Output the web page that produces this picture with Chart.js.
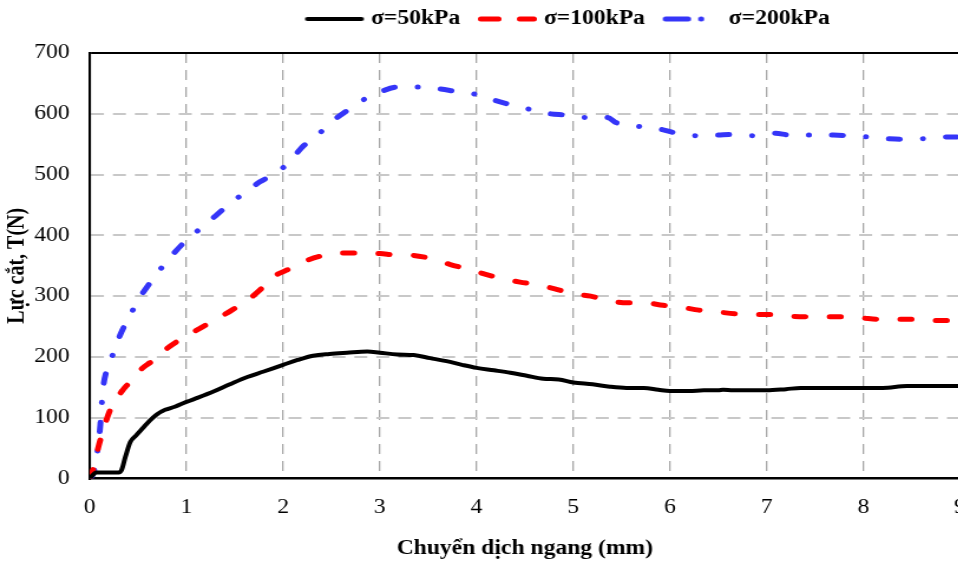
<!DOCTYPE html>
<html>
<head>
<meta charset="utf-8">
<style>
  html, body { margin: 0; padding: 0; background: #fff; overflow: hidden; }
  #wrap { width: 830px; height: 561px; transform: scaleX(1.18); transform-origin: 0 0; }
  canvas { display: block; }
</style>
<script src="https://cdn.jsdelivr.net/npm/chart.js@4.4.1/dist/chart.umd.min.js"></script>
</head>
<body>
<div id="wrap"><canvas id="chart" width="830" height="561"></canvas></div>
<script>
// Shear force vs. horizontal displacement for three normal stresses
const seriesLabels = ['σ=50kPa', 'σ=100kPa', 'σ=200kPa'];

const disp50 = [0, 0.07, 0.30, 0.33, 0.37, 0.42, 0.48, 0.55, 0.62, 0.69, 0.78, 0.88, 1.0, 1.12, 1.28, 1.45, 1.63, 1.80, 2.0, 2.15, 2.31, 2.48, 2.66, 2.87, 3.0, 3.18, 3.35, 3.52, 3.69, 3.85, 4.0, 4.18, 4.35, 4.52, 4.69, 4.85, 5.0, 5.2, 5.38, 5.55, 5.73, 5.88, 6.0, 6.2, 6.35, 6.5, 6.55, 6.65, 6.8, 7.0, 7.2, 7.35, 7.6, 7.8, 8.0, 8.2, 8.45, 8.7, 9.0];
const force50 = [0, 10, 10, 14, 36, 60, 71, 83, 95, 105, 113, 118, 126, 133, 143, 155, 167, 176, 187, 195, 202, 205, 207, 209, 207, 204, 203, 198, 193, 187, 182, 178, 174, 169, 164, 163, 158, 155, 151, 149, 149, 146, 144, 144, 145, 145, 146, 145, 145, 145, 147, 149, 149, 149, 149, 149, 152, 152, 152];

const disp100 = [0, 0.03, 0.06, 0.09, 0.13, 0.17, 0.21, 0.28, 0.34, 0.40, 0.46, 0.52, 0.60, 0.69, 0.80, 0.90, 1.0, 1.14, 1.32, 1.47, 1.63, 1.76, 1.90, 2.07, 2.25, 2.42, 2.62, 2.80, 3.0, 3.16, 3.35, 3.52, 3.73, 3.90, 4.07, 4.26, 4.45, 4.62, 4.81, 5.0, 5.18, 5.36, 5.56, 5.73, 5.93, 6.11, 6.30, 6.49, 6.68, 6.85, 7.04, 7.23, 7.42, 7.61, 7.80, 7.99, 8.16, 8.35, 8.54, 8.73, 8.93, 9.0];
const force100 = [0, 12, 30, 52, 74, 95, 112, 132, 145, 156, 167, 178, 188, 197, 214, 225, 235, 247, 263, 277, 293, 310, 332, 345, 359, 367, 371, 371, 370, 368, 367, 362, 352, 345, 337, 329, 323, 319, 312, 304, 300, 293, 289, 289, 285, 282, 277, 274, 271, 270, 270, 267, 266, 266, 266, 264, 262, 262, 262, 260, 260, 260];

const disp200 = [0, 0.02, 0.06, 0.09, 0.11, 0.12, 0.14, 0.19, 0.25, 0.32, 0.42, 0.50, 0.62, 0.75, 0.85, 1.0, 1.15, 1.30, 1.45, 1.61, 1.76, 1.94, 2.09, 2.19, 2.37, 2.52, 2.66, 2.83, 3.02, 3.19, 3.40, 3.61, 3.78, 3.99, 4.19, 4.35, 4.56, 4.76, 4.92, 5.13, 5.35, 5.45, 5.69, 5.92, 6.07, 6.28, 6.49, 6.66, 6.86, 7.09, 7.24, 7.45, 7.69, 7.83, 8.04, 8.26, 8.40, 8.62, 8.90, 9.0];
const force200 = [0, 3, 22, 58, 88, 112, 150, 184, 208, 238, 269, 293, 321, 348, 367, 392, 412, 432, 452, 471, 488, 504, 525, 544, 567, 589, 605, 623, 637, 644, 644, 641, 637, 632, 622, 615, 607, 600, 598, 594, 594, 585, 579, 574, 568, 564, 565, 566, 564, 568, 565, 565, 565, 564, 562, 559, 558, 559, 562, 562];

const xTicks = [0, 1, 2, 3, 4, 5, 6, 7, 8, 9];
const yTicks = [0, 100, 200, 300, 400, 500, 600, 700];

const toPoints = (xs, ys) => xs.map((x, i) => ({ x: x, y: ys[i] }));

const serif = "'Liberation Serif', 'Times New Roman', serif";

// Small legend key: a short stroke (or dash/dot pieces) in the series style
function legendKey(color, width, pieces) {
  const c = document.createElement('canvas');
  c.width = 54;
  c.height = 10;
  const g = c.getContext('2d');
  g.strokeStyle = color;
  g.lineWidth = width;
  g.lineCap = 'round';
  const r = width / 2;
  pieces.forEach(([a, b]) => {
    g.beginPath();
    g.moveTo(2 + r + a, 5);
    g.lineTo(2 + r + Math.max(a + 0.1, b - width), 5);
    g.stroke();
  });
  return c;
}

// Moves the legend row over the plot as in the report figure
const legendShift = {
  id: 'legendShift',
  afterLayout(chart) {
    const lg = chart.legend;
    if (!lg) return;
    lg.left += 76;
    lg.right += 76;
    lg.top -= 14;
    lg.bottom -= 14;
  }
};

new Chart(document.getElementById('chart'), {
  type: 'line',
  data: {
    datasets: [
      {
        label: seriesLabels[0],
        data: toPoints(disp50, force50),
        borderColor: '#000000',
        backgroundColor: '#000000',
        borderWidth: 4,
        borderCapStyle: 'round',
        borderJoinStyle: 'round',
        pointStyle: legendKey('#000000', 4, [[0, 50]])
      },
      {
        label: seriesLabels[1],
        data: toPoints(disp100, force100),
        borderColor: '#ff0000',
        backgroundColor: '#ff0000',
        borderWidth: 5,
        borderDash: [9.5, 20.5],
        borderCapStyle: 'round',
        borderJoinStyle: 'round',
        pointStyle: legendKey('#ff0000', 5, [[0, 20], [33, 50]])
      },
      {
        label: seriesLabels[2],
        data: toPoints(disp200, force200),
        borderColor: '#3535f8',
        backgroundColor: '#3535f8',
        borderWidth: 5,
        borderDash: [9.4, 19.5, 0.1, 19.4],
        borderCapStyle: 'round',
        borderJoinStyle: 'round',
        pointStyle: legendKey('#3535f8', 5, [[0, 24], [30, 35]])
      }
    ]
  },
  options: {
    responsive: false,
    animation: false,
    events: [],
    layout: { padding: { left: 0, right: 16.4, top: 4, bottom: 0 } },
    elements: {
      point: { radius: 0 },
      line: { tension: 0, cubicInterpolationMode: 'monotone' }
    },
    plugins: {
      tooltip: { enabled: false },
      legend: {
        display: true,
        position: 'top',
        labels: {
          usePointStyle: true,
          pointStyleWidth: 42,
          padding: 19,
          color: '#000',
          font: { family: serif, size: 20, weight: 'bold' }
        }
      }
    },
    scales: {
      x: {
        type: 'linear',
        min: 0,
        max: 9,
        afterBuildTicks: s => { s.ticks = xTicks.map(v => ({ value: v })); },
        afterFit: s => { s.height = 82.5; s.paddingRight = 0; },
        ticks: {
          color: '#000',
          padding: 17,
          font: { family: serif, size: 20 }
        },
        grid: {
          drawTicks: false,
          color: '#a6a6a6',
          lineWidth: 1.3
        },
        border: {
          display: true,
          color: '#000',
          width: 2.5,
          dash: ctx => (ctx.type === 'tick' ? [10, 7] : [])
        },
        title: {
          display: true,
          text: 'Chuyển dịch ngang (mm)',
          color: '#000',
          padding: { top: 0, bottom: 0 },
          font: { family: serif, size: 20, weight: 'bold' }
        }
      },
      y: {
        min: 0,
        max: 700,
        afterBuildTicks: s => { s.ticks = yTicks.map(v => ({ value: v })); },
        afterFit: s => { s.width = 76; },
        ticks: {
          color: '#000',
          padding: 17,
          font: { family: serif, size: 20 }
        },
        grid: {
          drawTicks: false,
          color: ctx => {
            if (ctx.type !== 'tick') return '#c8c8c8';
            if (ctx.tick.value === 0) return 'rgba(0,0,0,0)';
            if (ctx.tick.value === 700) return '#000';
            return '#c8c8c8';
          },
          lineWidth: 2
        },
        border: {
          display: true,
          color: '#000',
          width: 2.1,
          dash: ctx => (ctx.type === 'tick' && ctx.tick.value !== 700 ? [11, 7.6] : [])
        },
        title: {
          display: true,
          text: 'Lực cắt, T(N)',
          color: '#000',
          padding: { top: 3, bottom: 0 },
          font: { family: serif, size: 20, weight: 'bold' }
        }
      }
    }
  },
  plugins: [legendShift]
});
</script>
</body>
</html>
